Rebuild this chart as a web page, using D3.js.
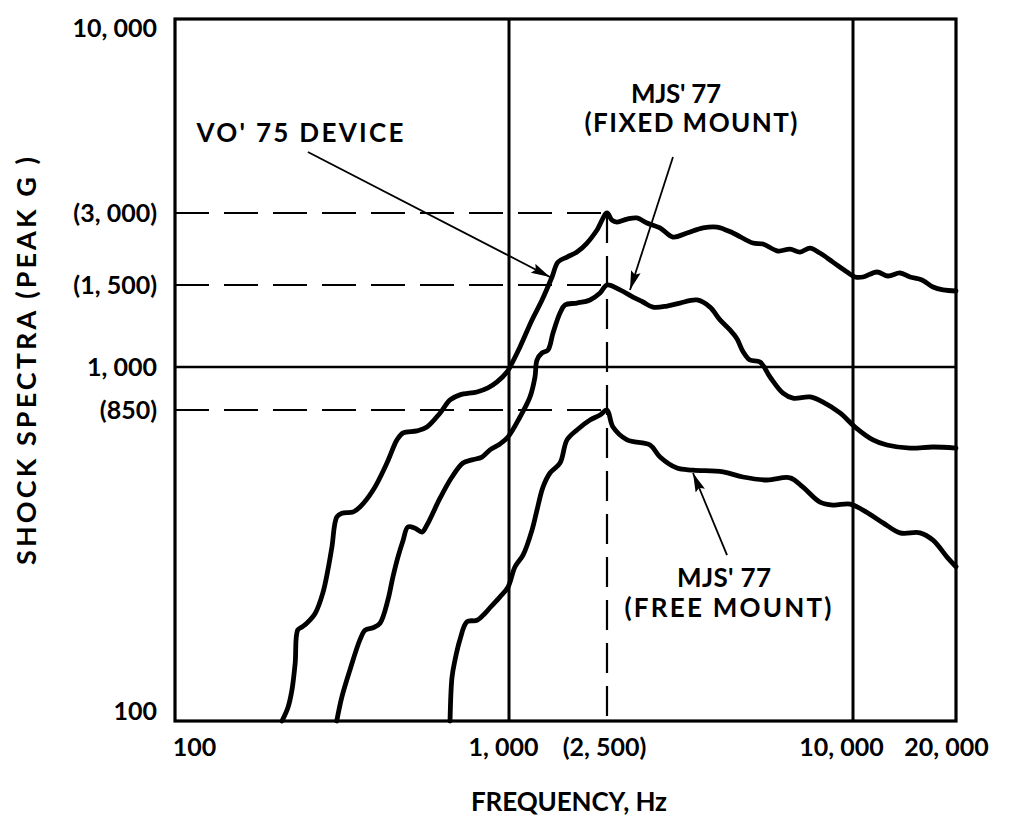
<!DOCTYPE html>
<html>
<head>
<meta charset="utf-8">
<script src="https://cdn.jsdelivr.net/npm/d3@7/dist/d3.min.js"></script>
<style>
  html, body { margin: 0; padding: 0; background: #fff; }
  svg { display: block; }
  text { font-family: "Lato", "Open Sans", sans-serif; font-weight: 700; fill: #000; }
</style>
</head>
<body>
<svg id="chart" width="1009" height="819"></svg>
<script>
// ---------------- data ----------------
const xTickValues = [100, 1000, 2500, 10000, 20000];
const xTickLabels = ["100", "1, 000", "(2, 500)", "10, 000", "20, 000"];
const yTickValues = [100, 850, 1000, 1500, 3000, 10000];
const yTickLabels = ["100", "(850)", "1, 000", "(1, 500)", "(3, 000)", "10, 000"];

// reference marks (frequency, peak G)
const refFreq = 2500;
const refLevels = [3000, 1500, 850];

// VO'75 device  [frequency Hz, peak G]
const vo75 = [
  [209,100],[218,110],[224,124],[229,149],[233,187],[240,191],[248,196],[263,210],
  [277,241],[287,283],[295,331],[305,407],[316,418],[341,421],[358,436],[392,490],
  [431,590],[462,692],[482,726],[530,736],[568,756],[622,833],[666,883],[713,900],
  [802,910],[865,924],[921,945],[986,981],[1009,1000],[1108,1104],[1240,1262],
  [1362,1393],[1495,1620],[1581,1872],[1720,1964],[1888,2061],[2074,2247],[2277,2547],
  [2500,3000],[2570,2800],[2645,2750],[2800,2830],[2960,2860],[3130,2725],[3370,2600],
  [3625,2380],[3925,2475],[4295,2600],[4650,2620],[5085,2475],[5690,2247],[6020,2226],
  [6550,2080],[7010,2120],[7420,2060],[7850,2140],[8300,2040],[8930,1870],[9670,1700],
  [10140,1620],[10700,1620],[11750,1700],[12660,1636],[13720,1684],[14680,1620],
  [15910,1574],[17130,1485],[18330,1464],[20000,1456]
];

// MJS'77 fixed mount
const mjsFixed = [
  [305,100],[316,118],[334,142],[358,175],[371,187],[392,190],[411,196],[434,230],
  [449,269],[465,309],[482,347],[498,380],[523,377],[549,367],[568,385],[622,464],
  [675,536],[728,590],[775,603],[830,615],[877,646],[940,673],[993,706],[1108,810],
  [1217,893],[1275,963],[1299,1035],[1362,1072],[1440,1088],[1509,1183],[1611,1306],
  [1688,1359],[1888,1372],[2133,1393],[2342,1442],[2500,1500],[2690,1464],[2894,1413],
  [3062,1379],[3240,1345],[3506,1352],[3772,1372],[4152,1393],[4467,1345],[4727,1262],
  [5000,1201],[5200,1150],[5379,1080],[5596,1035],[5923,1025],[6266,963],[6741,906],
  [7132,889],[7850,893],[8446,876],[9294,833],[10140,756],[11440,692],[12570,668],
  [14680,654],[17130,659],[20000,654]
];

// MJS'77 free mount
const mjsFree = [
  [666,100],[675,135],[689,152],[713,175],[749,198],[802,200],[848,210],[877,218],
  [940,235],[993,251],[1058,289],[1140,313],[1240,372],[1299,427],[1374,500],[1467,551],
  [1611,590],[1720,692],[1888,741],[2133,793],[2342,821],[2500,850],[2586,756],[2800,692],
  [3186,668],[3371,615],[3709,570],[4059,562],[4808,555],[5379,536],[6159,525],[7013,533],
  [7544,500],[8304,451],[8934,442],[9832,445],[10700,427],[12240,391],[13720,365],
  [15700,365],[17130,347],[18830,309],[20000,289]
];

// callouts: [start point, arrow tip] in data units
const vo75Arrow  = [[250, 4380], [1467, 1620]];
const fixedArrow = [[3626, 4246], [2846, 1464]];
const freeArrow  = [[4917, 313], [4059, 551]];

// ---------------- layout ----------------
const svg = d3.select("#chart");
const L = 175, R = 956, T = 19, B = 721;

// hand-drawn axis of the original: piecewise logarithmic between labelled values
const x = d3.scaleLog().domain(xTickValues).range([L, 509, 607, 853, R]);
const y = d3.scaleLog().domain(yTickValues).range([B, 410, 367, 285, 213, T]);

const defs = svg.append("defs");
defs.append("marker")
  .attr("id", "ah").attr("markerUnits", "userSpaceOnUse")
  .attr("markerWidth", 20).attr("markerHeight", 12)
  .attr("refX", 19).attr("refY", 5).attr("orient", "auto")
  .append("path").attr("d", "M0,0 L19,5 L0,10 L3,5 Z").attr("fill", "#000");

// solid grid lines
const g = svg.append("g");
[1000, 10000].forEach(v => {
  g.append("line").attr("x1", x(v)).attr("x2", x(v)).attr("y1", T).attr("y2", B)
    .attr("stroke", "#000").attr("stroke-width", 3);
});
g.append("line").attr("x1", L).attr("x2", R).attr("y1", y(1000)).attr("y2", y(1000))
  .attr("stroke", "#000").attr("stroke-width", 2.6);

// dashed reference lines
refLevels.forEach(v => {
  g.append("line").attr("x1", L).attr("x2", x(refFreq)).attr("y1", y(v)).attr("y2", y(v))
    .attr("stroke", "#000").attr("stroke-width", 2.2).attr("stroke-dasharray", "34,15");
});
g.append("line").attr("x1", x(refFreq)).attr("x2", x(refFreq))
  .attr("y1", y(d3.max(refLevels))).attr("y2", B)
  .attr("stroke", "#000").attr("stroke-width", 2.2).attr("stroke-dasharray", "30,13");

// frame
svg.append("rect").attr("x", L).attr("y", T).attr("width", R - L).attr("height", B - T)
  .attr("fill", "none").attr("stroke", "#000").attr("stroke-width", 3.2);

// curves
const line = d3.line().x(d => x(d[0])).y(d => y(d[1])).curve(d3.curveCatmullRom.alpha(0.5));
[vo75, mjsFixed, mjsFree].forEach(s => {
  svg.append("path").datum(s).attr("d", line)
    .attr("fill", "none").attr("stroke", "#000").attr("stroke-width", 4.8)
    .attr("stroke-linejoin", "round").attr("stroke-linecap", "round");
});

// arrows
[vo75Arrow, fixedArrow, freeArrow].forEach(a => {
  svg.append("line")
    .attr("x1", x(a[0][0])).attr("y1", y(a[0][1]))
    .attr("x2", x(a[1][0])).attr("y2", y(a[1][1]))
    .attr("stroke", "#000").attr("stroke-width", 1.8).attr("marker-end", "url(#ah)");
});

// axes
const yAxis = d3.axisLeft(y).tickValues(yTickValues).tickSize(0).tickPadding(18)
  .tickFormat((d, i) => yTickLabels[i]);
const ya = svg.append("g").attr("transform", `translate(${L},0)`).call(yAxis);
ya.select(".domain").remove();
ya.selectAll("text").style("font-size", "25px").attr("fill", "#000")
  .attr("dy", (d, i) => i === 0 ? "-0.08em" : (i === yTickValues.length - 1 ? "0.7em" : "0.34em"));

const xShift = [19, -6, -3, -12, -10];
const xAxis = d3.axisBottom(x).tickValues(xTickValues).tickSize(0).tickPadding(17)
  .tickFormat((d, i) => xTickLabels[i]);
const xa = svg.append("g").attr("transform", `translate(0,${B})`).call(xAxis);
xa.select(".domain").remove();
xa.selectAll("text").style("font-size", "25px").attr("fill", "#000")
  .attr("dx", (d, i) => xShift[i]);
svg.selectAll(".tick text").attr("font-family", null);

// axis titles
svg.append("text").attr("x", 569).attr("y", 811).attr("text-anchor", "middle")
  .attr("textLength", 196).attr("lengthAdjust", "spacing")
  .style("font-size", "26px").text("FREQUENCY,  Hz");
svg.append("text").attr("transform", "translate(36,361) rotate(-90)")
  .attr("text-anchor", "middle").attr("textLength", 408).attr("lengthAdjust", "spacing")
  .style("font-size", "27px").text("SHOCK  SPECTRA  (PEAK  G )");

// annotations
function label(txt, cx, by, w) {
  svg.append("text").attr("x", cx).attr("y", by).attr("text-anchor", "middle")
    .attr("textLength", w).attr("lengthAdjust", "spacing")
    .style("font-size", "26px").text(txt);
}
label("VO' 75 DEVICE", 300, 142, 207);
label("MJS' 77", 676, 103, 90);
label("(FIXED  MOUNT)", 691, 132, 213);
label("MJS' 77", 724, 587, 94);
label("(FREE  MOUNT)", 728, 617, 207);
</script>
</body>
</html>
